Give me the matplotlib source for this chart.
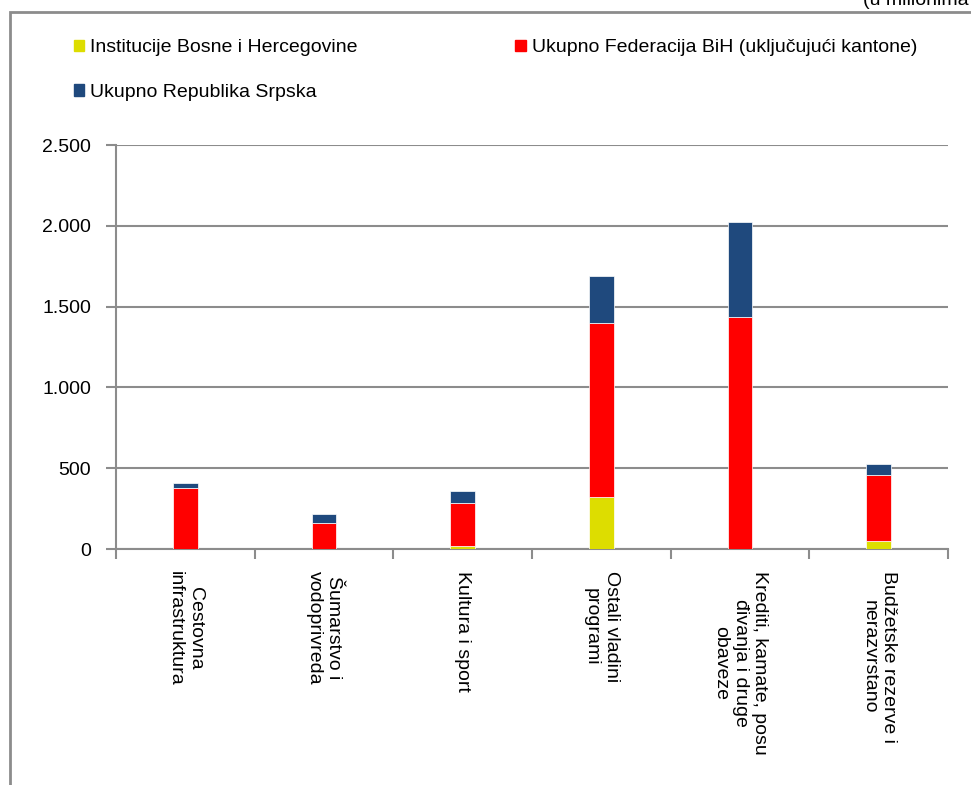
import matplotlib.pyplot as plt
from matplotlib.patches import Rectangle, Patch

plt.rcParams["font.family"] = ["Liberation Sans", "DejaVu Sans"]

categories = [
    "Cestovna\ninfrastruktura",
    "Šumarstvo i\nvodoprivreda",
    "Kultura i sport",
    "Ostali vladini\nprogrami",
    "Krediti, kamate, posu\nđivanja i druge\nobaveze",
    "Budžetske rezerve i\nnerazvrstano",
]
institucije_bih = [0, 0, 20, 321, 0, 51]
federacija_bih = [377, 160, 263, 1075, 1435, 406]
republika_srpska = [31, 57, 78, 293, 589, 70]

yticks = [0, 500, 1000, 1500, 2000, 2500]
ytick_labels = ["0", "500", "1.000", "1.500", "2.000", "2.500"]

c_bih = "#dddd00"
c_fed = "#ff0000"
c_rs = "#1f497d"
grey = "#8c8c8c"
fs = 14

fig = plt.figure(figsize=(9.71, 7.85), dpi=100)

# outer chart frame (cut off at right and bottom like the source)
fig.patches.append(Rectangle((10 / 971, -0.05), 1.0, 1 - 12 / 785 + 0.05,
                             transform=fig.transFigure, fill=False,
                             edgecolor=grey, lw=2))
fig.text(863 / 971, 1 - 9 / 785, "(u milionima KM)", fontsize=fs,
         va="bottom", ha="left")

ax = fig.add_axes([116 / 971, 236 / 785, (948 - 116) / 971, (549 - 145) / 785])

x = list(range(len(categories)))
w = 0.18
bottom2 = [a + b for a, b in zip(institucije_bih, federacija_bih)]
ax.bar(x, institucije_bih, w, color=c_bih, edgecolor="white", lw=0.5, zorder=3)
ax.bar(x, federacija_bih, w, bottom=institucije_bih, color=c_fed,
       edgecolor="white", lw=0.5, zorder=3)
ax.bar(x, republika_srpska, w, bottom=bottom2, color=c_rs,
       edgecolor="white", lw=0.5, zorder=3)

ax.set_xlim(-0.5, len(categories) - 0.5)
ax.set_ylim(0, 2500)
ax.set_yticks(yticks)
ax.set_yticklabels(ytick_labels, fontsize=fs)
ax.yaxis.grid(True, color=grey, lw=1.5, zorder=0)
ax.tick_params(axis="y", length=7, width=1.5, color=grey, pad=11)

ax.set_xticks([i - 0.5 for i in range(len(categories) + 1)])
ax.set_xticklabels([])
ax.tick_params(axis="x", which="major", length=7, width=1.5, color=grey)
ax.set_xticks(x, minor=True)
ax.set_xticklabels(categories, minor=True, rotation=-90, fontsize=fs,
                   ha="center", va="top", multialignment="center")
ax.tick_params(axis="x", which="minor", length=0, pad=16)

for s in ["top", "right"]:
    ax.spines[s].set_visible(False)
for s in ["left", "bottom"]:
    ax.spines[s].set_color(grey)
    ax.spines[s].set_linewidth(1.5)

# legend fills column by column, so order gives row 1: BiH, FBiH; row 2: RS
handles = [Patch(color=c_bih), Patch(color=c_rs), Patch(color=c_fed)]
labels = ["Institucije Bosne i Hercegovine",
          "Ukupno Republika Srpska",
          "Ukupno Federacija BiH (uključujući kantone)"]
fig.legend(handles, labels, loc="upper left", bbox_to_anchor=(56 / 971, 1 - 22 / 785),
           ncol=2, frameon=False, fontsize=fs, handlelength=0.55, handleheight=0.55,
           handletextpad=0.3, columnspacing=8.1, labelspacing=1.4)

fig.savefig("out.png", dpi=100)
